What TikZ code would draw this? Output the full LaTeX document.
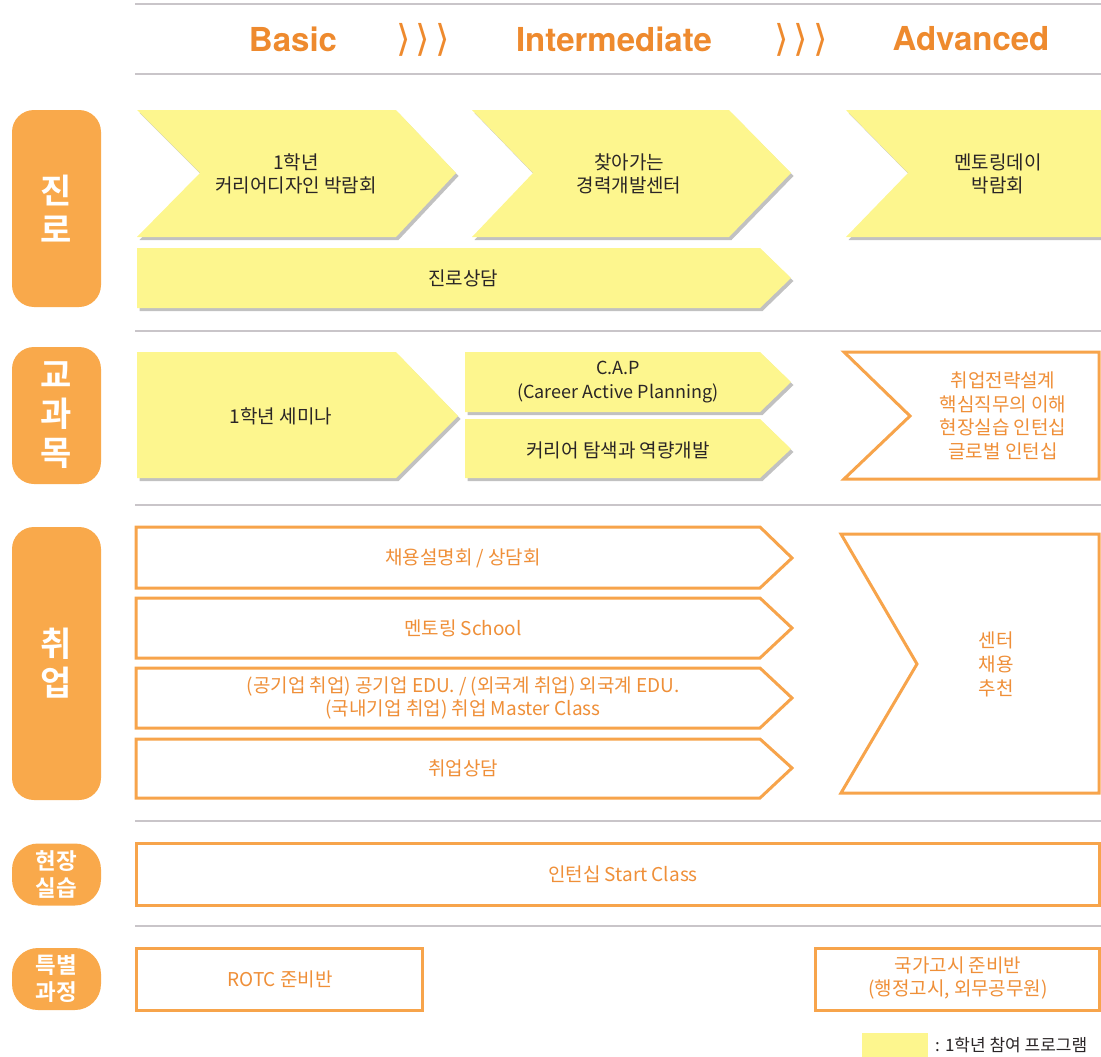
\documentclass[tikz,border=0pt]{standalone}
\usepackage{fontspec}
\setmainfont{Noto Sans CJK KR}[BoldFont={Noto Sans CJK KR Bold}]
\newfontfamily\headfont{TeX Gyre Heros}
\newfontfamily\symbfont{DejaVu Sans}
\usepackage{tikz}
\usetikzlibrary{shadows, positioning}

\definecolor{chevyellow}{HTML}{FDF68E}
\definecolor{labelorange}{HTML}{F9A94B}
\definecolor{lineorange}{HTML}{F7A44B}
\definecolor{textorange}{HTML}{EF8F38}
\definecolor{headorange}{HTML}{EE8A2E}
\definecolor{rulegray}{HTML}{C9C5C9}
\definecolor{textdark}{HTML}{2A2526}

\begin{document}
\begin{tikzpicture}[
        x=1pt, y=-1pt,
        catbox/.style={
            rounded corners=22pt,
            fill=labelorange,
            text=white,
            minimum width=89pt,
            inner sep=0pt,
            align=center,
            font=\bfseries\fontsize{34}{39}\selectfont
        },
        smallcat/.style={
            catbox,
            rounded corners=26pt,
            minimum height=62pt,
            font=\bfseries\fontsize{22.5}{27}\selectfont
        },
        headtxt/.style={
            text=headorange,
            font=\headfont\bfseries\fontsize{33}{33}\selectfont
        },
        arrtxt/.style={
            text=headorange,
            font=\symbfont\fontsize{37}{37}\selectfont
        },
        chev/.style={
            fill=chevyellow,
            drop shadow={shadow xshift=2.5pt, shadow yshift=-3pt,
                opacity=0.35, fill=black!70}
        },
        outline/.style={
            draw=lineorange,
            line width=3pt,
            fill=white
        },
        darktxt/.style={
            text=textdark,
            align=center,
            font=\fontsize{19}{23.5}\selectfont
        },
        orangetxt/.style={
            darktxt,
            text=textorange
        },
        sepline/.style={
            draw=rulegray,
            line width=1.8pt
        }
    ]

    \useasboundingbox (0,0) rectangle (1101,1057);

    % rules
    \foreach \y in {4,74,331,505,821,926}
        \draw[sepline] (135,\y) -- (1101,\y);

    % header
    \node[headtxt] (basic) at (293,39) {Basic};
    \node[arrtxt] (arr1) at (423,40) {⟩\hspace{5pt}⟩\hspace{5pt}⟩};
    \node[headtxt] (inter) at (614,39) {Intermediate};
    \node[arrtxt] (arr2) at (801,40) {⟩\hspace{5pt}⟩\hspace{5pt}⟩};
    \node[headtxt] (adv) at (971,39) {Advanced};

    % category labels
    \node[catbox, minimum height=197pt] (jinro) at (56.5,208.5) {진\\로};
    \node[catbox, minimum height=137pt] (gyogwa) at (56.5,415.5) {교\\과\\목};
    \node[catbox, minimum height=273pt] (chwieop) at (56.5,663.5) {취\\업};
    \node[smallcat] (hyeonjang) at (56.5,874.5) {현장\\실습};
    \node[smallcat] (teukbyeol) at (56.5,979) {특별\\과정};

    % career row
    \path[chev] (137,110) -- (396,110) -- (456,173) -- (396,237) -- (137,237) -- (200,173) -- cycle;
    \path[chev] (472,110) -- (729,110) -- (791,173) -- (729,237) -- (472,237) -- (533,173) -- cycle;
    \path[chev] (846,110) -- (1110,110) -- (1110,237) -- (846,237) -- (908,173) -- cycle;
    \path[chev] (137,248) -- (760,248) -- (791,278) -- (760,308) -- (137,308) -- cycle;
    \node[darktxt] (fair) at (296,174) {1학년\\커리어디자인 박람회};
    \node[darktxt] (center) at (629,174) {찾아가는\\경력개발센터};
    \node[darktxt] (mentday) at (998,174) {멘토링데이\\박람회};
    \node[darktxt] (counsel) at (463,278) {진로상담};

    % course row
    \path[chev] (137,352) -- (396,352) -- (458,416) -- (396,478) -- (137,478) -- cycle;
    \path[chev] (465,352) -- (760,352) -- (791,382) -- (760,412) -- (465,412) -- cycle;
    \path[chev] (465,419) -- (760,419) -- (791,449) -- (760,478) -- (465,478) -- cycle;
    \draw[outline] (844,352) -- (1099,352) -- (1099,479) -- (844,479) -- (910,416) -- cycle;
    \node[darktxt] (seminar) at (281,416) {1학년 세미나};
    \node[darktxt, font=\fontsize{18}{24}\selectfont] (cap) at (618,382) {C.A.P\\(Career Active Planning)};
    \node[darktxt] (explore) at (618,450) {커리어 탐색과 역량개발};
    \node[orangetxt, font=\fontsize{19}{23.5}\selectfont] (strategy) at (1003,416)
        {취업전략설계\\핵심직무의 이해\\현장실습 인턴십\\글로벌 인턴십};

    % job row
    \draw[outline] (136,527) -- (760,527) -- (792,558) -- (760,588) -- (136,588) -- cycle;
    \draw[outline] (136,598) -- (760,598) -- (792,628) -- (760,658) -- (136,658) -- cycle;
    \draw[outline] (136,668) -- (760,668) -- (792,698) -- (760,728) -- (136,728) -- cycle;
    \draw[outline] (136,739) -- (760,739) -- (792,768) -- (760,798) -- (136,798) -- cycle;
    \draw[outline] (841,534) -- (1099,534) -- (1099,793) -- (841,793) -- (917,664) -- cycle;
    \node[orangetxt] (recruit) at (463,558) {채용설명회 / 상담회};
    \node[orangetxt] (school) at (463,628) {멘토링 School};
    \node[orangetxt, font=\fontsize{19}{22.5}\selectfont] (edu) at (463,698)
        {(공기업 취업) 공기업 EDU. / (외국계 취업) 외국계 EDU.\\(국내기업 취업) 취업 Master Class};
    \node[orangetxt] (jobcounsel) at (463,768) {취업상담};
    \node[orangetxt, font=\fontsize{19}{24}\selectfont] (recommend) at (996,664) {센터\\채용\\추천};

    % intern row
    \draw[outline] (136,843) rectangle (1099,905);
    \node[orangetxt] (startclass) at (623,874) {인턴십 Start Class};

    % special row
    \draw[outline] (136,948) rectangle (422,1010);
    \draw[outline] (815,948) rectangle (1099,1010);
    \node[orangetxt] (rotc) at (280,979) {ROTC 준비반};
    \node[orangetxt] (exam) at (958,978) {국가고시 준비반\\(행정고시, 외무공무원)};

    % legend
    \node[fill=chevyellow, minimum width=66pt, minimum height=26pt, inner sep=0pt] (legkey) at (895,1046) {};
    \node[darktxt, anchor=west, inner sep=0pt, font=\fontsize{17}{20}\selectfont] (legtxt) at (935,1045) {: 1학년 참여 프로그램};

\end{tikzpicture}
\end{document}
